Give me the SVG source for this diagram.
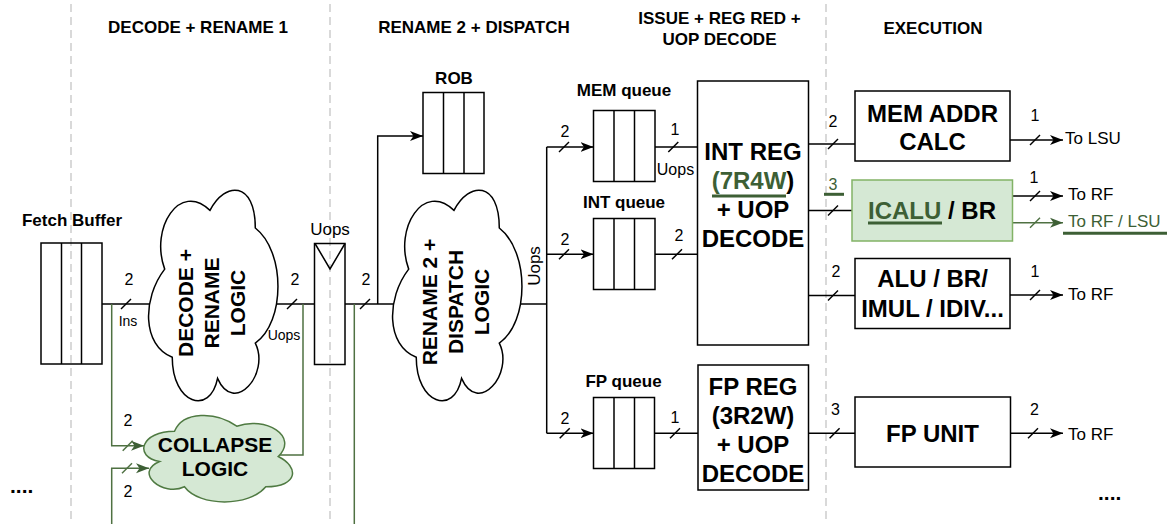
<svg xmlns="http://www.w3.org/2000/svg" width="1169" height="524" viewBox="0 0 1169 524">
<style>
text{font-family:"Liberation Sans",Arial,sans-serif;fill:#000}
.h{font-size:17px;font-weight:bold;text-anchor:middle}
.n{font-size:16px;text-anchor:middle}
.s{font-size:14px;text-anchor:middle}
.t{font-size:17px}
.big{font-size:24px;font-weight:bold;text-anchor:middle}
.cl{font-size:21px;font-weight:bold;text-anchor:middle}
.sep{stroke:#b3b3b3;stroke-width:1;stroke-dasharray:8 5;fill:none}
.ln{stroke:#000;stroke-width:1.5;fill:none}
.gl{stroke:#4f7142;stroke-width:1.5;fill:none}
.box{stroke:#000;stroke-width:1.5;fill:#fff}
.q{stroke:#000;stroke-width:1.5;fill:none}
.cloud{stroke:#000;stroke-width:1.5;fill:#fff}
.gcloud{stroke:#4f7a42;stroke-width:1.5;fill:#d5e8d4}
.gbox{stroke:#82b366;stroke-width:1.5;fill:#d5e8d4}
.gt{fill:#3d5f35}
.ul{stroke:#3d5f35;stroke-width:3}
</style>
<defs>
<marker id="ar" markerUnits="userSpaceOnUse" markerWidth="14" markerHeight="12" refX="13" refY="6" orient="auto"><path d="M0,1 L13,6 L0,11 L3.5,6 Z" fill="#000"/></marker>
<marker id="arg" markerUnits="userSpaceOnUse" markerWidth="14" markerHeight="12" refX="13" refY="6" orient="auto"><path d="M0,1 L13,6 L0,11 L3.5,6 Z" fill="#3d5f35"/></marker>
</defs>

<g id="separators">
<line class="sep" x1="71" y1="4" x2="71" y2="524"/>
<line class="sep" x1="330" y1="4" x2="330" y2="524"/>
<line class="sep" x1="826" y1="4" x2="826" y2="524"/>
</g>

<g id="headers">
<text class="h" x="198" y="33">DECODE + RENAME 1</text>
<text class="h" x="474" y="33">RENAME 2 + DISPATCH</text>
<text class="h" x="719.5" y="23.5">ISSUE + REG RED +</text>
<text class="h" x="719.5" y="45">UOP DECODE</text>
<text class="h" x="933" y="33.5">EXECUTION</text>
</g>

<g id="connectors">
<path class="ln" d="M102,304 H152"/>
<path class="ln" d="M275,304 H314.5"/>
<path class="ln" d="M345,304 H396"/>
<path class="ln" d="M377.7,304 V136 H423" marker-end="url(#ar)"/>
<path class="ln" d="M518,304 H546.7"/>
<path class="ln" d="M546.7,147 V433.3"/>
<path class="ln" d="M546.7,147 H593.5" marker-end="url(#ar)"/>
<path class="ln" d="M546.7,254.3 H593.5" marker-end="url(#ar)"/>
<path class="ln" d="M546.7,433.3 H593.5" marker-end="url(#ar)"/>
<path class="ln" d="M655,147 H697.5"/>
<path class="ln" d="M655,254.3 H697.5"/>
<path class="ln" d="M654.5,433.3 H698"/>
<path class="ln" d="M808.5,144 H855"/>
<path class="ln" d="M808.5,210.5 H852"/>
<path class="ln" d="M808.5,295.5 H855"/>
<path class="ln" d="M808.5,433.3 H855"/>
<path class="ln" d="M1010,140 H1063" marker-end="url(#ar)"/>
<path class="ln" d="M1012.5,196 H1063" marker-end="url(#ar)"/>
<path class="gl" d="M1012.5,222.7 H1063" marker-end="url(#arg)"/>
<path class="ln" d="M1010,295 H1063" marker-end="url(#ar)"/>
<path class="ln" d="M1010.5,433.3 H1063" marker-end="url(#ar)"/>
<path class="gl" d="M111.7,304 V445.7 H144" marker-end="url(#arg)"/>
<path class="gl" d="M111.7,524 V468.3 H149" marker-end="url(#arg)"/>
<path class="gl" d="M303,304 V455 H279"/>
<path class="gl" d="M354.3,304 V524"/>
<g id="slashes">
<path class="ln" d="M121,309 l10,-10"/>
<path class="ln" d="M287,309 l10,-10"/>
<path class="ln" d="M360,309 l10,-10"/>
<path class="ln" d="M559,152 l10,-10"/>
<path class="ln" d="M559,259.3 l10,-10"/>
<path class="ln" d="M559.7,438.3 l10,-10"/>
<path class="ln" d="M668.3,152 l10,-10"/>
<path class="ln" d="M672,259.3 l10,-10"/>
<path class="ln" d="M670,438.3 l10,-10"/>
<path class="ln" d="M828,149 l10,-10"/>
<path class="ln" d="M828,215.5 l10,-10"/>
<path class="ln" d="M828,300.5 l10,-10"/>
<path class="ln" d="M829.6,438.3 l10,-10"/>
<path class="ln" d="M1030,145 l10,-10"/>
<path class="ln" d="M1030,201 l10,-10"/>
<path class="gl" d="M1030,227.7 l10,-10"/>
<path class="ln" d="M1030,300 l10,-10"/>
<path class="ln" d="M1028,438.3 l10,-10"/>
<path class="gl" d="M122.7,450.7 l10,-10"/>
<path class="gl" d="M122,473.3 l10,-10"/>
</g>
<g id="connector-labels">
<text class="n" x="129" y="285">2</text>
<text class="s" x="128" y="326">Ins</text>
<text class="n" x="295" y="285">2</text>
<text class="s" x="284" y="340">Uops</text>
<text class="n" x="366" y="285">2</text>
<text class="t" transform="translate(540,266) rotate(-90)" text-anchor="middle">Uops</text>
<text class="n" x="565" y="136.7">2</text>
<text class="n" x="565" y="245">2</text>
<text class="n" x="565" y="424">2</text>
<text class="n" x="675" y="135">1</text>
<text class="n" x="675.5" y="175">Uops</text>
<text class="n" x="679" y="240.7">2</text>
<text class="n" x="675" y="423">1</text>
<text class="n" x="833" y="126.7">2</text>
<text class="n gt" x="833" y="190">3</text>
<line class="ul" x1="824" y1="194.3" x2="844" y2="194.3"/>
<text class="n" x="836" y="276.7">2</text>
<text class="n" x="835.5" y="415">3</text>
<text class="n" x="1035" y="120.7">1</text>
<text class="n" x="1034" y="183.3">1</text>
<text class="n" x="1035" y="276.7">1</text>
<text class="n" x="1034.5" y="415">2</text>
<text class="t" x="1065" y="144.3">To LSU</text>
<text class="t" x="1068" y="200">To RF</text>
<text class="t gt" x="1068" y="227">To RF / LSU</text>
<line class="ul" x1="1063" y1="233.3" x2="1167" y2="233.3"/>
<text class="t" x="1068" y="300">To RF</text>
<text class="t" x="1068" y="440">To RF</text>
<text class="n" x="128" y="426">2</text>
<text class="n" x="128" y="496.7">2</text>
</g>
</g>

<g id="fetch-buffer">
<text class="h" x="72" y="226">Fetch Buffer</text>
<rect class="q" x="41" y="243" width="61" height="121"/>
<line class="q" x1="61.5" y1="243" x2="61.5" y2="364"/>
<line class="q" x1="81.5" y1="243" x2="81.5" y2="364"/>
</g>

<g id="decode-rename-logic">
<path class="cloud" vector-effect="non-scaling-stroke" transform="translate(210,298.5) rotate(-90) translate(-117.5,-75.5) scale(2.35,1.51)" d="M25,25 C5,25 0,50 16,55 C0,66 18,90 31,80 C40,100 70,100 80,80 C100,80 100,60 87.5,50 C100,30 80,10 62.5,20 C50,5 30,5 25,25 Z"/>
<text class="cl" transform="translate(211,303) rotate(-90)"><tspan x="0" y="-18.5">DECODE +</tspan><tspan x="0" y="7.5">RENAME</tspan><tspan x="0" y="33.5">LOGIC</tspan></text>
</g>

<g id="uops-buffer">
<text class="t" x="330" y="235" text-anchor="middle">Uops</text>
<rect class="q" x="314.5" y="243.5" width="30.5" height="121"/>
<path class="q" d="M315,243.5 L330,269 L345,243.5"/>
</g>

<g id="rob">
<text class="h" x="454" y="84">ROB</text>
<rect class="q" x="423" y="92.5" width="61" height="81"/>
<line class="q" x1="443.5" y1="92.5" x2="443.5" y2="173.5"/>
<line class="q" x1="464" y1="92.5" x2="464" y2="173.5"/>
</g>

<g id="rename2-dispatch-logic">
<path class="cloud" vector-effect="non-scaling-stroke" transform="translate(454,298.5) rotate(-90) translate(-117.5,-75.5) scale(2.35,1.51)" d="M25,25 C5,25 0,50 16,55 C0,66 18,90 31,80 C40,100 70,100 80,80 C100,80 100,60 87.5,50 C100,30 80,10 62.5,20 C50,5 30,5 25,25 Z"/>
<text class="cl" transform="translate(455,302) rotate(-90)"><tspan x="0" y="-18.5">RENAME 2 +</tspan><tspan x="0" y="7.5">DISPATCH</tspan><tspan x="0" y="33.5">LOGIC</tspan></text>
</g>

<g id="collapse-logic">
<path class="gcloud" vector-effect="non-scaling-stroke" transform="translate(133,406) scale(1.66,1.01)" d="M25,25 C5,25 0,50 16,55 C0,66 18,90 31,80 C40,100 70,100 80,80 C100,80 100,60 87.5,50 C100,30 80,10 62.5,20 C50,5 30,5 25,25 Z"/>
<text class="cl" x="215" y="451.5">COLLAPSE</text>
<text class="cl" x="215" y="475.5">LOGIC</text>
</g>

<g id="mem-queue">
<text class="h" x="624" y="95.5">MEM queue</text>
<rect class="q" x="593.5" y="110.5" width="61.5" height="71"/>
<line class="q" x1="614" y1="110.5" x2="614" y2="181.5"/>
<line class="q" x1="634.5" y1="110.5" x2="634.5" y2="181.5"/>
</g>

<g id="int-queue">
<text class="h" x="624" y="208">INT queue</text>
<rect class="q" x="593.5" y="218.5" width="61.5" height="71"/>
<line class="q" x1="614" y1="218.5" x2="614" y2="289.5"/>
<line class="q" x1="634.5" y1="218.5" x2="634.5" y2="289.5"/>
</g>

<g id="fp-queue">
<text class="h" x="623.5" y="387">FP queue</text>
<rect class="q" x="593.5" y="397.5" width="61" height="71"/>
<line class="q" x1="614" y1="397.5" x2="614" y2="468.5"/>
<line class="q" x1="634.5" y1="397.5" x2="634.5" y2="468.5"/>
</g>

<g id="int-reg">
<rect class="box" x="697.5" y="81" width="111" height="264"/>
<text class="big" x="753" y="160">INT REG</text>
<text class="big" x="753" y="189"><tspan class="gt">(7R4W</tspan>)</text>
<line class="ul" x1="712" y1="196" x2="786" y2="196"/>
<text class="big" x="753" y="218">+ UOP</text>
<text class="big" x="753" y="247">DECODE</text>
</g>

<g id="fp-reg">
<rect class="box" x="698" y="365" width="110.5" height="125"/>
<text class="big" x="753" y="395">FP REG</text>
<text class="big" x="753" y="424">(3R2W)</text>
<text class="big" x="753" y="453">+ UOP</text>
<text class="big" x="753" y="482">DECODE</text>
</g>

<g id="mem-addr-calc">
<rect class="box" x="855" y="91" width="155" height="70"/>
<text class="big" x="932.5" y="121.7">MEM ADDR</text>
<text class="big" x="932.5" y="150">CALC</text>
</g>

<g id="icalu-br">
<rect class="gbox" x="852" y="180" width="160.5" height="61"/>
<text class="big" x="932" y="218.5"><tspan class="gt">ICALU</tspan> / BR</text>
<line class="ul" x1="868" y1="223" x2="942" y2="223"/>
</g>

<g id="alu-br">
<rect class="box" x="855" y="258.5" width="155" height="70"/>
<text class="big" x="932.5" y="286.7">ALU / BR/</text>
<text class="big" x="932.5" y="316.7">IMUL / IDIV...</text>
</g>

<g id="fp-unit">
<rect class="box" x="855" y="397" width="155.5" height="70"/>
<text class="big" x="932.5" y="441.7">FP UNIT</text>
</g>

<g id="ellipses">
<text x="10" y="493" style="font-size:21px;font-weight:bold">....</text>
<text x="1098" y="500" style="font-size:21px;font-weight:bold">....</text>
</g>
</svg>
